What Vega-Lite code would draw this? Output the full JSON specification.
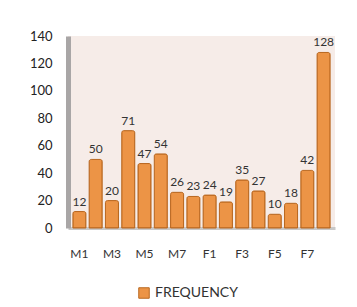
{
  "$schema": "https://vega.github.io/schema/vega-lite/v6.json",
  "autosize": "none",
  "width": 267,
  "height": 192,
  "padding": {"left": 68, "top": 36, "right": 22, "bottom": 79},
  "background": "white",
  "config": {
    "font": "Lato",
    "view": {"fill": "#f6ece8", "stroke": null}
  },
  "data": {
    "values": [
      {"code": "M1", "frequency": 12},
      {"code": "M2", "frequency": 50},
      {"code": "M3", "frequency": 20},
      {"code": "M4", "frequency": 71},
      {"code": "M5", "frequency": 47},
      {"code": "M6", "frequency": 54},
      {"code": "M7", "frequency": 26},
      {"code": "M8", "frequency": 23},
      {"code": "F1", "frequency": 24},
      {"code": "F2", "frequency": 19},
      {"code": "F3", "frequency": 35},
      {"code": "F4", "frequency": 27},
      {"code": "F5", "frequency": 10},
      {"code": "F6", "frequency": 18},
      {"code": "F7", "frequency": 42},
      {"code": "F8", "frequency": 128}
    ]
  },
  "encoding": {
    "x": {
      "field": "code",
      "type": "nominal",
      "sort": null,
      "scale": {"paddingInner": 0.2, "paddingOuter": 0.3},
      "axis": {
        "title": null,
        "values": ["M1", "M3", "M5", "M7", "F1", "F3", "F5", "F7"],
        "labelAngle": 0,
        "ticks": false,
        "domain": true,
        "domainColor": "#c8c8c8",
        "domainWidth": 3,
        "labelPadding": 20,
        "labelFontSize": 12,
        "labelColor": "#333333"
      }
    },
    "y": {
      "field": "frequency",
      "type": "quantitative",
      "scale": {"domain": [0, 140]},
      "axis": {
        "title": null,
        "values": [0, 20, 40, 60, 80, 100, 120, 140],
        "grid": false,
        "ticks": false,
        "domainColor": "#a9a6a6",
        "domainWidth": 5,
        "labelPadding": 16,
        "labelFontSize": 13,
        "labelColor": "#222222"
      }
    }
  },
  "layer": [
    {
      "mark": {"type": "bar", "stroke": "#b9671f", "strokeWidth": 1, "cornerRadiusTopLeft": 2, "cornerRadiusTopRight": 2},
      "encoding": {
        "color": {
          "datum": "FREQUENCY",
          "type": "nominal",
          "scale": {"range": ["#ec9446"]},
          "legend": {
            "title": null,
            "orient": "none",
            "legendX": 69,
            "legendY": 250,
            "symbolType": "square",
            "symbolSize": 110,
            "symbolStrokeColor": "#b9671f",
            "symbolStrokeWidth": 1,
            "labelFontSize": 14,
            "labelColor": "#333333"
          }
        }
      }
    },
    {
      "mark": {"type": "text", "dy": -10, "fontSize": 12, "color": "#333333"},
      "encoding": {
        "text": {"field": "frequency", "type": "quantitative"}
      }
    }
  ]
}
